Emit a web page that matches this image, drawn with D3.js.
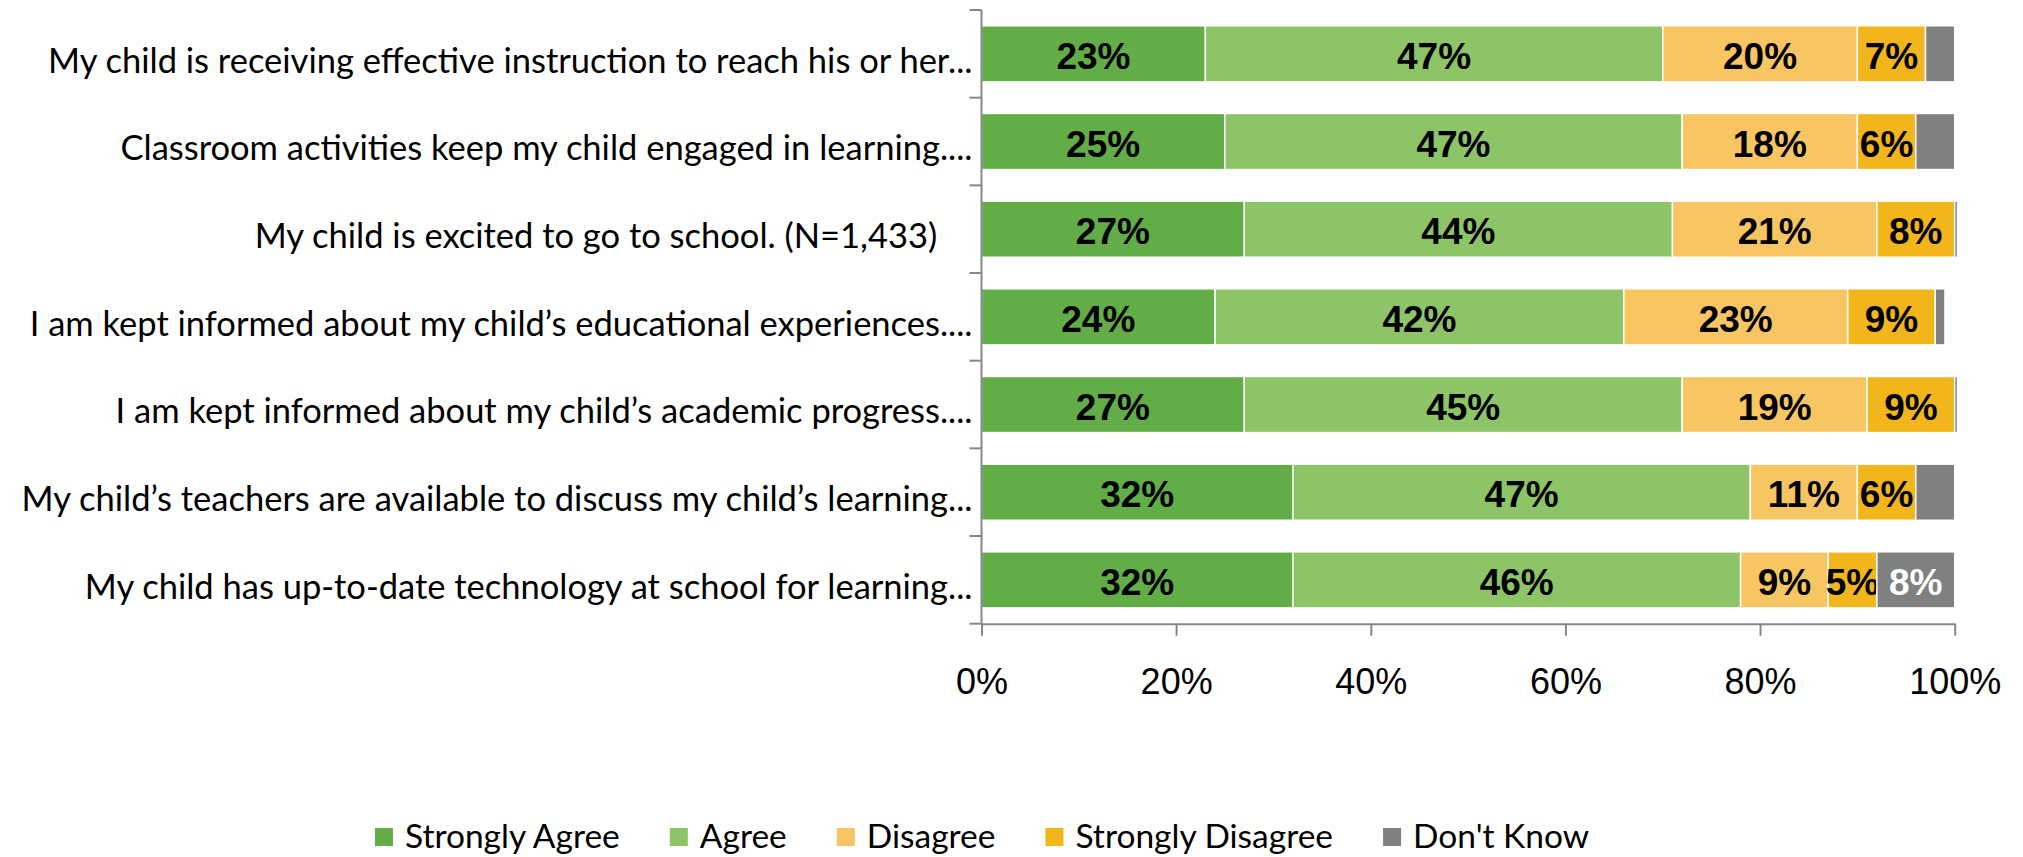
<!DOCTYPE html>
<html>
<head>
<meta charset="utf-8">
<script src="https://cdn.jsdelivr.net/npm/d3@7"></script>
<style>
    body { margin: 0; background: #fff; }
    svg { display: block; }
    .cat { white-space: pre; }
</style>
</head>
<body>
<div id="chart"></div>
<script>
const categories = [
    "My child is receiving effective instruction to reach his or her...",
    "Classroom activities keep my child engaged in learning....",
    "My child is excited to go to school. (N=1,433)    ",
    "I am kept informed about my child\u2019s educational experiences....",
    "I am kept informed about my child\u2019s academic progress....",
    "My child\u2019s teachers are available to discuss my child\u2019s learning...",
    "My child has up-to-date technology at school for learning..."
];
const seriesNames = ["Strongly Agree", "Agree", "Disagree", "Strongly Disagree", "Don't Know"];
const stronglyAgree = [23, 25, 27, 24, 27, 32, 32];
const agree = [47, 47, 44, 42, 45, 47, 46];
const disagree = [20, 18, 21, 23, 19, 11, 9];
const stronglyDisagree = [7, 6, 8, 9, 9, 6, 5];
const dontKnow = [3, 4, 0.3, 1, 0.3, 4, 8];
const xTicks = [0, 20, 40, 60, 80, 100];

const colors = ["#62ad47", "#8dc467", "#f7c562", "#f2b51c", "#808080"];
const labelColors = ["#000", "#000", "#000", "#000", "#fff"];

const width = 2023;
const height = 857;

const table = categories.map((c, i) => ({
    cat: c,
    "Strongly Agree": stronglyAgree[i],
    "Agree": agree[i],
    "Disagree": disagree[i],
    "Strongly Disagree": stronglyDisagree[i],
    "Don't Know": dontKnow[i]
}));

const stack = d3.stack().keys(seriesNames)(table);

const svg = d3.select("#chart")
    .append("svg")
    .attr("width", width).attr("height", height);

const x = d3.scaleLinear().domain([0, 100]).range([981.5, 1954.7]);
const y = d3.scaleBand().domain(categories).range([10, 623.7])
    .paddingInner(0.36).paddingOuter(0.18);

// bars
const layers = svg.append("g")
    .selectAll("g")
    .data(stack)
    .enter().append("g")
    .attr("fill", (d, i) => colors[i]);

layers.selectAll("rect")
    .data(d => d)
    .enter().append("rect")
    .attr("x", d => x(d[0]))
    .attr("y", d => y(d.data.cat))
    .attr("width", d => Math.max(0, x(d[1]) - x(d[0])))
    .attr("height", y.bandwidth())
    .attr("stroke", "#fff")
    .attr("stroke-width", 1.5);

// value labels, only for segments of 5% or more
layers.each(function(layer, li) {
    d3.select(this).selectAll("text")
        .data(layer.filter(d => d[1] - d[0] >= 5))
        .enter().append("text")
        .attr("x", d => (x(d[0]) + x(d[1])) / 2)
        .attr("y", d => y(d.data.cat) + y.bandwidth() / 2)
        .attr("dy", "0.41em")
        .attr("text-anchor", "middle")
        .attr("font-family", "'Liberation Sans', Arial, sans-serif")
        .attr("font-weight", "bold")
        .attr("font-size", 37)
        .attr("fill", labelColors[li])
        .text(d => Math.round(d[1] - d[0]) + "%");
});

// axes
const axisColor = "#878787";

const xAxis = svg.append("g")
    .attr("transform", `translate(0,${623.7})`)
    .call(d3.axisBottom(x).tickValues(xTicks).tickSize(12).tickSizeOuter(0).tickFormat(d => d + "%"));
xAxis.select(".domain").attr("stroke", axisColor).attr("stroke-width", 2);
xAxis.selectAll(".tick line").attr("stroke", axisColor).attr("stroke-width", 2);
xAxis.selectAll(".tick text")
    .attr("y", 70).attr("dy", 0)
    .attr("font-family", "'Liberation Sans', Arial, sans-serif")
    .attr("font-size", 36)
    .attr("fill", "#000");

const yAxis = svg.append("g")
    .attr("transform", `translate(${981.5},0)`);
yAxis.append("line")
    .attr("y1", y.range()[0]).attr("y2", y.range()[1])
    .attr("stroke", axisColor).attr("stroke-width", 2);

const bounds = categories.map(c => y(c) - y.step() * y.paddingInner() / 2);
bounds.push(y.range()[1]);
yAxis.selectAll(".cattick")
    .data(bounds)
    .enter().append("line")
    .attr("class", "cattick")
    .attr("x1", -12).attr("x2", 0)
    .attr("y1", d => d).attr("y2", d => d)
    .attr("stroke", axisColor).attr("stroke-width", 2);

yAxis.selectAll(".cat")
    .data(categories)
    .enter().append("text")
    .attr("class", "cat")
    .attr("x", -9)
    .attr("y", d => y(d) + y.bandwidth() / 2)
    .attr("dy", "0.55em")
    .attr("text-anchor", "end")
    .attr("font-family", "Lato, 'Noto Sans', sans-serif")
    .attr("font-size", 34.5)
    .attr("fill", "#000")
    .text(d => d);

// legend
const legend = svg.append("g");
const items = legend.selectAll("g")
    .data(seriesNames)
    .enter().append("g");
items.append("rect")
    .attr("y", 828).attr("width", 18).attr("height", 18)
    .attr("fill", (d, i) => colors[i]);
items.append("text")
    .attr("x", 30).attr("y", 848)
    .attr("font-family", "Lato, 'Noto Sans', sans-serif")
    .attr("font-size", 33.5)
    .attr("fill", "#000")
    .text(d => d);

let pos = 0;
const offsets = [];
items.each(function() {
    const w = 30 + d3.select(this).select("text").node().getComputedTextLength();
    offsets.push(pos);
    pos += w + 50;
});
const total = pos - 50;
const start = 982 - total / 2;
items.attr("transform", (d, i) => `translate(${start + offsets[i]},0)`);
</script>
</body>
</html>
